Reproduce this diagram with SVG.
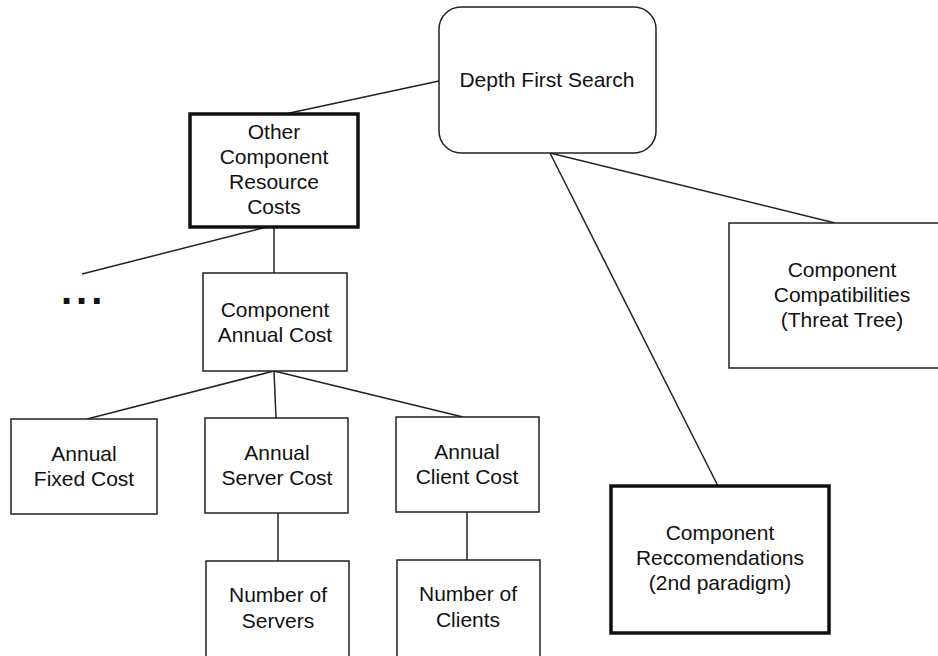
<svg xmlns="http://www.w3.org/2000/svg" width="938" height="656" viewBox="0 0 938 656">
<style>
  .box { fill: #fff; stroke: #222; stroke-width: 1.5; }
  .thick { fill: #fff; stroke: #111; stroke-width: 3.5; }
  .lbl { font-family: "Liberation Sans", Arial, sans-serif; font-size: 21px; fill: #111; text-anchor: middle; }
  .conn line { stroke: #222; stroke-width: 1.5; fill: none; }
</style>
<rect x="0" y="0" width="938" height="656" fill="#fff"/>
<g id="connectors" class="conn">
  <line x1="439" y1="81" x2="285" y2="114"/>
  <line x1="267" y1="227" x2="82" y2="274"/>
  <line x1="274" y1="227" x2="274" y2="273"/>
  <line x1="274" y1="371" x2="87" y2="419"/>
  <line x1="274" y1="371" x2="276" y2="418"/>
  <line x1="274" y1="371" x2="463" y2="417"/>
  <line x1="278" y1="513" x2="278" y2="561"/>
  <line x1="467" y1="512" x2="467" y2="560"/>
  <line x1="550" y1="153" x2="718" y2="486"/>
  <line x1="550" y1="153" x2="835" y2="223"/>
</g>
<g id="dfs">
  <rect class="box" x="439" y="7" width="217" height="146" rx="22" ry="22"/>
  <text class="lbl" x="547" y="87">Depth First Search</text>
</g>
<g id="other-costs">
  <rect class="thick" x="190" y="114" width="168" height="113"/>
  <text class="lbl" x="274" y="139">Other</text>
  <text class="lbl" x="274" y="164">Component</text>
  <text class="lbl" x="274" y="189">Resource</text>
  <text class="lbl" x="274" y="214">Costs</text>
</g>
<g id="ellipsis">
  <text x="61" y="304" font-family="'Liberation Sans', Arial, sans-serif" font-size="40" font-weight="bold" letter-spacing="4" fill="#111">...</text>
</g>
<g id="component-annual-cost">
  <rect class="box" x="203" y="273" width="144" height="98"/>
  <text class="lbl" x="275" y="317">Component</text>
  <text class="lbl" x="275" y="342">Annual Cost</text>
</g>
<g id="annual-fixed-cost">
  <rect class="box" x="11" y="419" width="146" height="95"/>
  <text class="lbl" x="84" y="461">Annual</text>
  <text class="lbl" x="84" y="486">Fixed Cost</text>
</g>
<g id="annual-server-cost">
  <rect class="box" x="205" y="418" width="143" height="95"/>
  <text class="lbl" x="277" y="460">Annual</text>
  <text class="lbl" x="277" y="485">Server Cost</text>
</g>
<g id="annual-client-cost">
  <rect class="box" x="396" y="417" width="143" height="95"/>
  <text class="lbl" x="467" y="459">Annual</text>
  <text class="lbl" x="467" y="484">Client Cost</text>
</g>
<g id="number-of-servers">
  <rect class="box" x="206" y="561" width="143" height="110"/>
  <text class="lbl" x="278" y="602">Number of</text>
  <text class="lbl" x="278" y="628">Servers</text>
</g>
<g id="number-of-clients">
  <rect class="box" x="397" y="560" width="143" height="110"/>
  <text class="lbl" x="468" y="601">Number of</text>
  <text class="lbl" x="468" y="627">Clients</text>
</g>
<g id="component-compatibilities">
  <rect class="box" x="729" y="223" width="230" height="145"/>
  <text class="lbl" x="842" y="277">Component</text>
  <text class="lbl" x="842" y="302">Compatibilities</text>
  <text class="lbl" x="842" y="327">(Threat Tree)</text>
</g>
<g id="component-recommendations">
  <rect class="thick" x="611" y="486" width="218" height="147"/>
  <text class="lbl" x="720" y="540">Component</text>
  <text class="lbl" x="720" y="565">Reccomendations</text>
  <text class="lbl" x="720" y="590">(2nd paradigm)</text>
</g>
</svg>
